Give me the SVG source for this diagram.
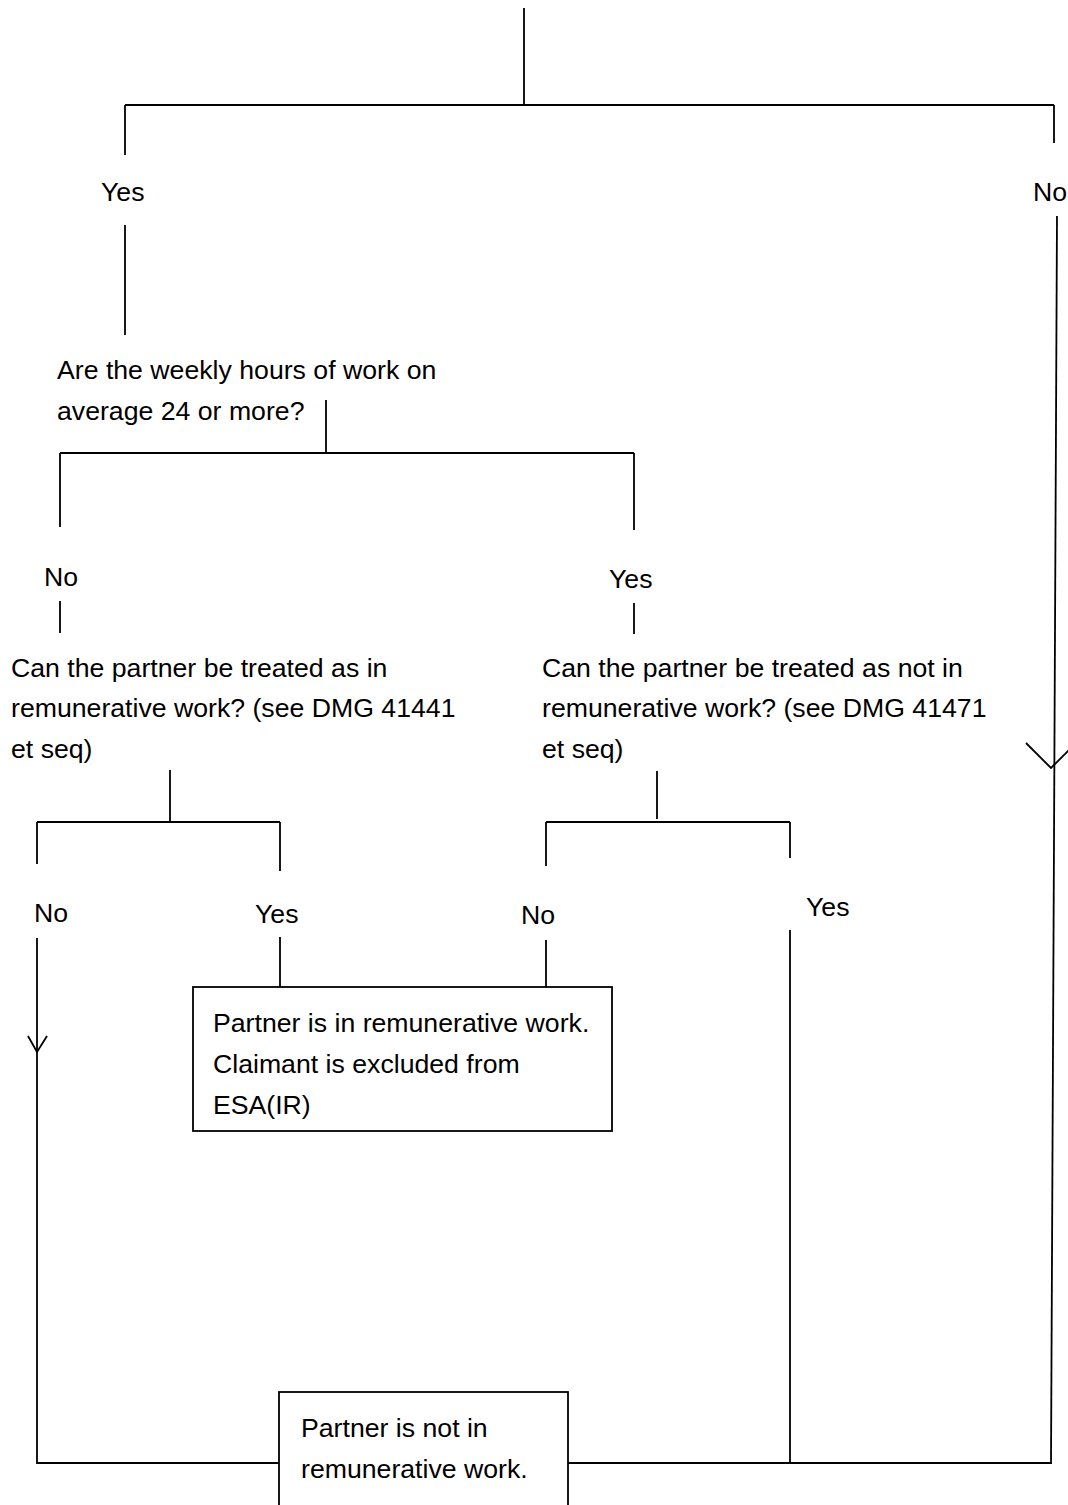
<svg xmlns="http://www.w3.org/2000/svg" width="1068" height="1505" viewBox="0 0 1068 1505">
<style>
text{font-family:"Liberation Sans",Arial,sans-serif;font-size:26.67px;fill:#000}
.ln{stroke:#000;stroke-width:1.8;fill:none}
.box{stroke:#000;stroke-width:1.8;fill:#fff}
</style>
<rect width="1068" height="1505" fill="#fff"/>
<g id="connectors">
<path class="ln" d="M524 8V105M125 105H1054M125 105V155M1054 105V143"/>
<path class="ln" d="M125 225V335"/>
<path class="ln" d="M1057 216L1051 1463"/>
<path class="ln" d="M1026 743L1051 768L1076 743"/>
<path class="ln" d="M326 400V453M60 453H634M60 453V527M634 453V530"/>
<path class="ln" d="M60 601V633M634 603V634"/>
<path class="ln" d="M170 770V822M37 822H280M37 822V864M280 822V871"/>
<path class="ln" d="M657 771V819M546 822H790M546 822V866M790 822V858"/>
<path class="ln" d="M37 938V1463H279"/>
<path class="ln" d="M28 1036L37 1052L47 1036"/>
<path class="ln" d="M280 937V987M546 940V987"/>
<path class="ln" d="M790 930V1463M568 1463H1052"/>
</g>
<g id="label-yes-top"><text x="101" y="201">Yes</text></g>
<g id="label-no-top"><text x="1033" y="201">No</text></g>
<g id="q-hours">
<text x="57" y="379">Are the weekly hours of work on</text>
<text x="57" y="420">average 24 or more?</text>
</g>
<g id="label-no-hours"><text x="44" y="586">No</text></g>
<g id="label-yes-hours"><text x="609" y="588">Yes</text></g>
<g id="q-treated-in">
<text x="11" y="677">Can the partner be treated as in</text>
<text x="11" y="717">remunerative work? (see DMG 41441</text>
<text x="11" y="758">et seq)</text>
</g>
<g id="q-treated-not-in">
<text x="542" y="677">Can the partner be treated as not in</text>
<text x="542" y="717">remunerative work? (see DMG 41471</text>
<text x="542" y="758">et seq)</text>
</g>
<g id="label-no-1"><text x="34" y="922">No</text></g>
<g id="label-yes-1"><text x="255" y="923">Yes</text></g>
<g id="label-no-2"><text x="521" y="924">No</text></g>
<g id="label-yes-2"><text x="806" y="916">Yes</text></g>
<g id="box-in-work">
<rect class="box" x="193" y="987" width="419" height="144"/>
<text x="213" y="1032">Partner is in remunerative work.</text>
<text x="213" y="1073">Claimant is excluded from</text>
<text x="213" y="1114">ESA(IR)</text>
</g>
<g id="box-not-in-work">
<rect class="box" x="279" y="1392" width="289" height="130"/>
<text x="301" y="1437">Partner is not in</text>
<text x="301" y="1478">remunerative work.</text>
</g>
</svg>
